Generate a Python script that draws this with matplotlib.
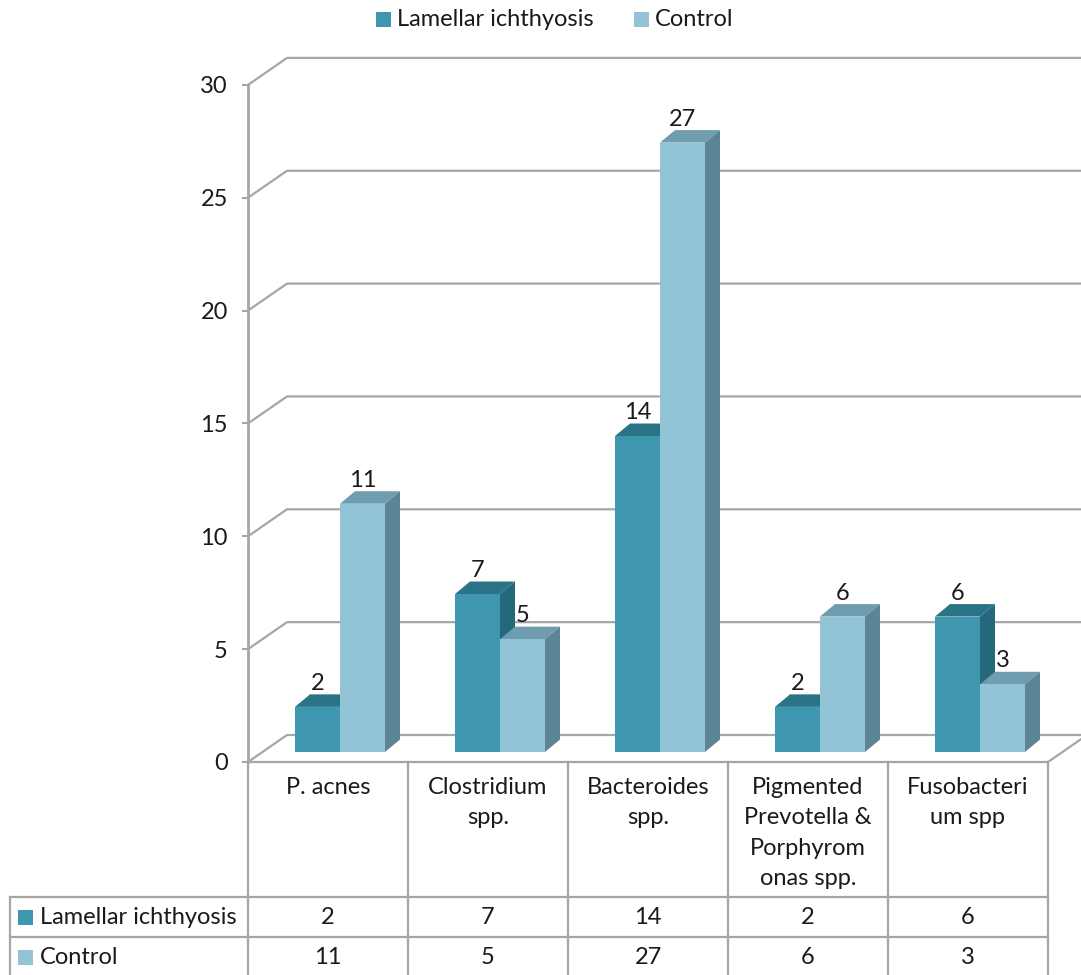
import matplotlib.pyplot as plt
from matplotlib.patches import Polygon, Rectangle

# data
categories = [
    "P. acnes",
    "Clostridium\nspp.",
    "Bacteroides\nspp.",
    "Pigmented\nPrevotella &\nPorphyrom\nonas spp.",
    "Fusobacteri\num spp",
]
series_names = ["Lamellar ichthyosis", "Control"]
lamellar = [2, 7, 14, 2, 6]
control = [11, 5, 27, 6, 3]
yticks = [0, 5, 10, 15, 20, 25, 30]

front_colors = ["#3f97af", "#92c3d6"]
top_colors = ["#2b7387", "#6f9cae"]
side_colors = ["#25687b", "#5d8494"]
grid_color = "#a6a6a6"
text_color = "#1a1a1a"
FS = 17

plt.rcParams["font.family"] = ["Lato", "DejaVu Sans"]

W, H = 1081, 975
fig = plt.figure(figsize=(W / 100, H / 100), dpi=100)

# pixel scale of the chart area
PX_X = 160.0   # pixels per category
PX_Y = 22.57   # pixels per value unit
X0, Y0 = 248, 762
top_px, bot_px = 40, 775

ax = fig.add_axes([X0 / W, (H - bot_px) / H, (W - X0) / W, (bot_px - top_px) / H])
ax.set_xlim(0, (W - X0) / PX_X)
ax.set_ylim(-(bot_px - Y0) / PX_Y, (Y0 - top_px) / PX_Y)

# wall depth
wdx, wdy = 39 / PX_X, 27 / PX_Y
xmax = (W - X0) / PX_X + 0.1
for v in yticks:
    ax.plot([0, wdx, xmax], [v, v + wdy, v + wdy], color=grid_color, lw=1.6,
            solid_capstyle="butt", zorder=1, clip_on=False)
# floor front edge
n = len(categories)
ax.plot([0, n, n + wdx], [0, 0, wdy], color=grid_color, lw=1.6, zorder=1, clip_on=False)

# front value axis
for s in ["top", "right", "bottom"]:
    ax.spines[s].set_visible(False)
ax.spines["left"].set_color(grid_color)
ax.spines["left"].set_linewidth(2)
ax.spines["left"].set_bounds(0, 30)
ax.set_yticks(yticks)
ax.set_yticklabels([str(t) for t in yticks], fontsize=FS, color=text_color)
ax.tick_params(axis="y", length=4.5, width=1.5, color=grid_color, pad=10)
ax.set_xticks([])
ax.patch.set_visible(False)

# 3D-looking bars (standing at mid depth of the floor)
bw = 45 / PX_X
boff = 47 / PX_X
base = 10 / PX_Y
bdx, bdy = 15 / PX_X, 12.5 / PX_Y

for s, vals in enumerate([lamellar, control]):
    z = 3 + 2 * s
    lefts = [i + boff + s * bw for i in range(n)]
    ax.bar(lefts, vals, width=bw, bottom=base, align="edge",
           color=front_colors[s], edgecolor="none", zorder=z + 1)
    for x, v in zip(lefts, vals):
        top = base + v
        ax.add_patch(Polygon([(x, top), (x + bw, top), (x + bw + bdx, top + bdy),
                              (x + bdx, top + bdy)], closed=True,
                             facecolor=top_colors[s], edgecolor="none", zorder=z))
        ax.add_patch(Polygon([(x + bw, base), (x + bw + bdx, base + bdy),
                              (x + bw + bdx, top + bdy), (x + bw, top)], closed=True,
                             facecolor=side_colors[s], edgecolor="none", zorder=z))
        ax.text(x + bw / 2, top + bdy + 0.5 / PX_Y, str(v), ha="center", va="bottom",
                fontsize=FS, color=text_color, zorder=10)

# overlay for legend and data table (pixel coordinates)
ov = fig.add_axes([0, 0, 1, 1], zorder=-1)
ov.set_xlim(0, W)
ov.set_ylim(H, 0)
ov.axis("off")

# legend
leg_x = [376, 634]
for s, name in enumerate(series_names):
    ov.add_patch(Rectangle((leg_x[s], 12), 15, 15, facecolor=front_colors[s], edgecolor="none"))
    ov.text(leg_x[s] + 21, 19.5, name, ha="left", va="center", fontsize=FS, color=text_color)

# data table
col_edges = [X0 + PX_X * k for k in range(n + 1)]
row_top, row_mid = 897, 937
for xe in col_edges:
    ov.plot([xe, xe], [Y0, H], color=grid_color, lw=1.6)
ov.plot([10, 10], [row_top, H], color=grid_color, lw=1.6)
for ye in [row_top, row_mid]:
    ov.plot([10, col_edges[-1]], [ye, ye], color=grid_color, lw=1.6)

for i, cat in enumerate(categories):
    cx = X0 + PX_X * (i + 0.5)
    ov.text(cx, 777, cat, ha="center", va="top", fontsize=FS, color=text_color,
            linespacing=1.55)

row_y = [917, 957]
for s, (name, vals) in enumerate(zip(series_names, [lamellar, control])):
    ov.add_patch(Rectangle((18, row_y[s] - 7.5), 15, 15, facecolor=front_colors[s], edgecolor="none"))
    ov.text(40, row_y[s], name, ha="left", va="center", fontsize=FS, color=text_color)
    for i, v in enumerate(vals):
        ov.text(X0 + PX_X * (i + 0.5), row_y[s], str(v), ha="center", va="center",
                fontsize=FS, color=text_color)

fig.savefig("out.png", dpi=100)
